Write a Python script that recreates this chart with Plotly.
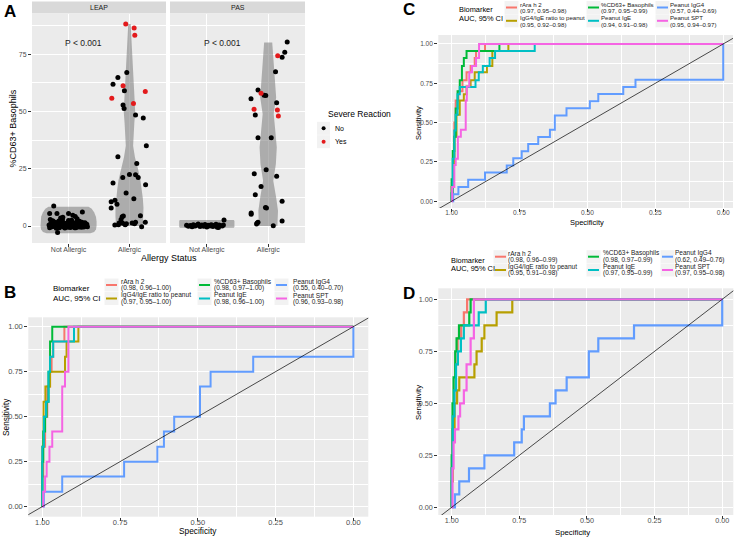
import plotly.graph_objects as go

FIG_W, FIG_H = 738, 538
FONT = "Liberation Sans, Arial, sans-serif"

# ---------------- Panel A data ----------------
categories = ["Not Allergic", "Allergic"]
facets = ["LEAP", "PAS"]

# LEAP, not allergic (jitter offset, %CD63+)
leap_na_dx = [-0.243, -0.31, -0.19, 0.0, 0.07, 0.11, 0.227, 0.14, -0.30, -0.18, -0.094, 0.05, -0.13,
              -0.32, -0.29, -0.27, -0.25, -0.24, -0.22, -0.2, -0.19, -0.17, -0.16,
              -0.14, -0.13, -0.11, -0.1, -0.08, -0.07, -0.05, -0.04, -0.02, -0.01,
              0.01, 0.02, 0.04, 0.05, 0.07, 0.08, 0.1, 0.11, 0.13, 0.14,
              0.16, 0.17, 0.19, 0.2, 0.22, 0.23, 0.25, 0.26, 0.28, 0.3,
              -0.31, -0.28, -0.26, -0.23, -0.21, -0.18, -0.15, -0.12, -0.09, -0.06,
              -0.03, 0.0, 0.03, 0.06, 0.09, 0.12, 0.15, 0.18, 0.21, 0.24, 0.27, 0.31,
              -0.3, -0.25, -0.2, -0.15, -0.1, -0.05, 0.0, 0.05, 0.1, 0.15, 0.2, 0.25, 0.29]
leap_na_y = [8.7, 5.5, 5.5, 5.5, 4.7, 4.2, 6.1, 3.2, 2.8, -2.8, 3.8, 2.5, 3.5,
             0.4, 1.2, -0.3, 0.8, 1.9, 0.1, -0.6, 1.5, 0.3, 2.2,
             -0.2, 0.9, 0.5, 1.7, -0.4, 0.2, 1.1, 0.0, 1.4, -0.5,
             0.6, 2.0, 0.1, -0.3, 1.3, 0.4, 0.9, -0.1, 1.8, 0.3,
             0.7, -0.4, 1.0, 0.2, 1.6, -0.2, 0.5, 1.2, 0.0, 0.8,
             -0.8, 0.6, 2.3, -0.1, 1.0, 0.4, -0.7, 1.9, 0.2, -0.9,
             0.7, 2.4, -0.6, 1.5, 0.1, -0.8, 0.9, 2.1, -0.5, 0.3, 1.4, -0.3,
             0.2, 1.1, -1.0, 0.5, 2.6, -0.2, 0.9, 1.6, -0.7, 0.3, 1.2, -0.4, 0.6]

# LEAP, allergic: no severe reaction / severe reaction
leap_al_no_dx = [-0.044, -0.19, -0.27, -0.083, -0.105, -0.088, 0.10, 0.227, 0.277, -0.19,
                 0.12, -0.11, 0.0, 0.10, 0.144, -0.055, 0.072, -0.27, 0.265, -0.238,
                 -0.30, -0.205, -0.30, 0.18, -0.12, -0.10, -0.138, -0.17, -0.24, -0.18,
                 -0.05, 0.044, 0.10, 0.083, 0.26, 0.2, -0.11, -0.07]
leap_al_no_y = [67.0, 64.8, 61.8, 59.0, 52.8, 51.3, 48.4, 47.1, 35.0, 30.2,
                27.3, 21.2, 22.5, 22.4, 21.2, 14.4, 11.9, 18.8, 18.0, 11.2,
                10.6, 9.5, 7.9, 4.5, 4.1, 4.4, 2.8, 1.3, 0.4, 0.6,
                1.0, 1.3, 1.6, 1.0, 1.6, -0.3, 1.2, 0.6]
leap_al_yes_dx = [-0.061, 0.077, 0.088, -0.105, 0.26, -0.29, 0.066]
leap_al_yes_y = [88.1, 86.4, 83.2, 61.2, 58.7, 55.8, 53.5]

# PAS, not allergic
pas_na_dx = [-0.33, -0.3, -0.27, -0.24, -0.22, -0.19, -0.16, -0.14, -0.11, -0.08,
             -0.06, -0.03, 0.0, 0.02, 0.05, 0.07, 0.1, 0.12, 0.15, 0.17,
             0.2, 0.22, 0.25, 0.27, 0.28, -0.2, -0.05, 0.09, 0.19]
pas_na_y = [0.3, -0.1, 0.2, -0.3, 0.6, 0.0, 0.4, 0.9, -0.2, 0.5,
            0.1, 0.7, -0.4, 0.3, 0.0, 0.6, -0.2, 0.2, 0.8, -0.5,
            0.4, 0.1, 0.0, 0.5, 2.6, 0.1, -0.1, 0.3, -0.6]

# PAS, allergic
pas_al_no_dx = [0.31, 0.27, 0.227, 0.12, -0.166, -0.066, -0.039, -0.28, 0.138, -0.21,
                -0.166, 0.05, -0.033, -0.227, 0.138, -0.116, -0.21, 0.227, -0.044, -0.028,
                -0.277, -0.277, -0.166, -0.19, -0.18, 0.227, 0.083]
pas_al_no_y = [80.3, 75.8, 73.6, 67.3, 59.3, 57.1, 56.9, 55.5, 53.8, 48.4,
               38.5, 38.5, 24.6, 22.8, 21.7, 17.2, 13.7, 10.8, 8.1, 7.9,
               5.7, 5.1, 1.7, 0.9, 1.3, 2.2, 0.1]
pas_al_yes_dx = [0.155, -0.116, -0.23, 0.15, 0.166]
pas_al_yes_y = [74.3, 57.9, 51.0, 50.6, 48.0]

# violin outlines: level and half width
leap_na_vy = [-3.2, -2.6, -1.5, 0, 2, 4, 6, 7.5, 8.4]
leap_na_vw = [0.36, 0.42, 0.45, 0.46, 0.46, 0.45, 0.42, 0.38, 0.33]
leap_al_vy = [0, 4, 8, 12, 16, 20, 25, 30, 35, 40, 45, 50, 55, 60, 65, 70, 75, 80, 85, 88.1]
leap_al_vw = [0.22, 0.23, 0.23, 0.22, 0.2, 0.18, 0.14, 0.09, 0.06, 0.065, 0.08, 0.094, 0.09,
              0.075, 0.065, 0.055, 0.045, 0.035, 0.028, 0.02]
pas_na_vy = [-0.7, -0.3, 2.2, 2.6]
pas_na_vw = [0.44, 0.45, 0.45, 0.44]
pas_al_vy = [0, 2.3, 6.7, 12.5, 19.8, 27, 34.3, 41.6, 48.9, 56.1, 63.4, 70.7, 80.1]
pas_al_vw = [0.15, 0.155, 0.16, 0.13, 0.083, 0.125, 0.14, 0.116, 0.09, 0.13, 0.113, 0.094, 0.066]

# ---------------- ROC data (specificity, sensitivity) ----------------
biomarkers = ["rAra h 2", "IgG4/IgE ratio to peanut", "%CD63+ Basophils",
              "Peanut IgE", "Peanut IgG4", "Peanut SPT"]
colors = ["#F8766D", "#B79F00", "#00BA38", "#00BFC4", "#619CFF", "#F564E3"]

auc_b = ["(0.98, 0.96\u20131.00)", "(0.97, 0.95\u20131.00)", "(0.98, 0.97\u20131.00)",
         "(0.98, 0.96\u20131.00)", "(0.55, 0.40\u20130.70)", "(0.96, 0.93\u20130.98)"]
auc_c = ["(0.97, 0.95\u20130.98)", "(0.95, 0.92\u20130.98)", "(0.97, 0.95\u20130.99)",
         "(0.94, 0.91\u20130.98)", "(0.57, 0.44\u20130.69)", "(0.95, 0.94\u20130.97)"]
auc_d = ["(0.98, 0.96\u20130.99)", "(0.95, 0.91\u20130.98)", "(0.98, 0.97\u20130.99)",
         "(0.97, 0.95\u20130.99)", "(0.62, 0.49\u20130.76)", "(0.97, 0.95\u20130.98)"]

b_rara = [(1, 0), (1, 0.167), (0.997, 0.167), (0.997, 0.333), (0.991, 0.333), (0.991, 0.5),
          (0.984, 0.5), (0.984, 0.667), (0.975, 0.667), (0.975, 0.75), (0.97, 0.75), (0.97, 0.833),
          (0.965, 0.833), (0.965, 0.917), (0.929, 0.917), (0.929, 1), (0, 1)]
b_ratio = [(1, 0), (1, 0.333), (0.996, 0.333), (0.996, 0.583), (0.99, 0.583), (0.99, 0.667),
           (0.975, 0.667), (0.975, 0.75), (0.927, 0.75), (0.927, 0.833), (0.922, 0.833),
           (0.922, 0.917), (0.884, 0.917), (0.884, 1), (0, 1)]
b_cd63 = [(1, 0), (1, 0.25), (0.997, 0.25), (0.997, 0.417), (0.991, 0.417), (0.991, 0.5),
          (0.986, 0.5), (0.986, 0.583), (0.98, 0.583), (0.98, 0.75), (0.975, 0.75), (0.975, 0.917),
          (0.968, 0.917), (0.968, 1), (0, 1)]
b_ige = [(1, 0), (1, 0.333), (0.995, 0.333), (0.995, 0.5), (0.988, 0.5), (0.988, 0.583),
         (0.98, 0.583), (0.98, 0.75), (0.975, 0.75), (0.975, 0.833), (0.965, 0.833),
         (0.965, 0.917), (0.898, 0.917), (0.898, 1), (0, 1)]
b_igg4 = [(1, 0), (0.995, 0), (0.995, 0.083), (0.936, 0.083), (0.936, 0.167), (0.737, 0.167),
          (0.737, 0.25), (0.63, 0.25), (0.63, 0.333), (0.609, 0.333), (0.609, 0.417), (0.576, 0.417),
          (0.576, 0.5), (0.493, 0.5), (0.493, 0.667), (0.459, 0.667), (0.459, 0.75), (0.322, 0.75),
          (0.322, 0.833), (0, 0.833), (0, 1)]
b_spt = [(1, 0), (0.997, 0), (0.997, 0.083), (0.991, 0.083), (0.991, 0.167), (0.986, 0.167),
         (0.986, 0.25), (0.977, 0.25), (0.977, 0.333), (0.968, 0.333), (0.968, 0.417),
         (0.936, 0.417), (0.936, 0.667), (0.927, 0.667), (0.927, 0.75), (0.916, 0.75),
         (0.916, 1), (0, 1)]

c_rara = [(1, 0), (1, 0.09), (0.995, 0.09), (0.995, 0.27), (0.99, 0.27), (0.99, 0.5),
          (0.985, 0.5), (0.985, 0.64), (0.975, 0.64), (0.975, 0.7), (0.96, 0.7), (0.96, 0.77),
          (0.945, 0.77), (0.945, 0.82), (0.93, 0.82), (0.93, 0.86), (0.915, 0.86), (0.915, 0.91),
          (0.91, 0.91), (0.91, 0.955), (0.877, 0.955), (0.877, 1), (0, 1)]
c_ratio = [(1, 0), (1, 0.05), (0.995, 0.05), (0.995, 0.23), (0.99, 0.23), (0.99, 0.41),
           (0.982, 0.41), (0.982, 0.55), (0.97, 0.55), (0.97, 0.64), (0.955, 0.64), (0.955, 0.68),
           (0.945, 0.68), (0.945, 0.73), (0.93, 0.73), (0.93, 0.77), (0.915, 0.77), (0.915, 0.82),
           (0.87, 0.82), (0.87, 0.86), (0.85, 0.86), (0.85, 0.955), (0.791, 0.955), (0.791, 1), (0, 1)]
c_cd63 = [(1, 0), (1, 0.14), (0.996, 0.14), (0.996, 0.32), (0.99, 0.32), (0.99, 0.41),
          (0.985, 0.41), (0.985, 0.59), (0.978, 0.59), (0.978, 0.7), (0.97, 0.7), (0.97, 0.77),
          (0.962, 0.77), (0.962, 0.86), (0.955, 0.86), (0.955, 0.91), (0.945, 0.91),
          (0.945, 0.955), (0.824, 0.955), (0.824, 1), (0, 1)]
c_ige = [(1, 0), (1, 0.05), (0.996, 0.05), (0.996, 0.27), (0.99, 0.27), (0.99, 0.45),
         (0.985, 0.45), (0.985, 0.55), (0.978, 0.55), (0.978, 0.68), (0.97, 0.68), (0.97, 0.727),
         (0.912, 0.727), (0.912, 0.77), (0.9, 0.77), (0.9, 0.82), (0.885, 0.82), (0.885, 0.86),
         (0.86, 0.86), (0.86, 0.91), (0.84, 0.91), (0.84, 0.955), (0.694, 0.955), (0.694, 1), (0, 1)]
c_igg4 = [(1, 0), (0.994, 0), (0.994, 0.045), (0.975, 0.045), (0.975, 0.091), (0.939, 0.091),
          (0.939, 0.136), (0.877, 0.136), (0.877, 0.182), (0.797, 0.182), (0.797, 0.227),
          (0.773, 0.227), (0.773, 0.273), (0.742, 0.273), (0.742, 0.318), (0.718, 0.318),
          (0.718, 0.364), (0.681, 0.364), (0.681, 0.409), (0.638, 0.409), (0.638, 0.455),
          (0.62, 0.455), (0.62, 0.545), (0.577, 0.545), (0.577, 0.591), (0.491, 0.591),
          (0.491, 0.636), (0.46, 0.636), (0.46, 0.682), (0.368, 0.682), (0.368, 0.727),
          (0.323, 0.727), (0.323, 0.773), (0, 0.773), (0, 1)]
c_spt = [(1, 0), (0.998, 0), (0.998, 0.09), (0.99, 0.09), (0.99, 0.23), (0.985, 0.23),
         (0.985, 0.27), (0.977, 0.27), (0.977, 0.41), (0.966, 0.41), (0.966, 0.455),
         (0.948, 0.455), (0.948, 0.64), (0.944, 0.64), (0.944, 0.73), (0.935, 0.73),
         (0.935, 0.82), (0.925, 0.82), (0.925, 0.86), (0.91, 0.86), (0.91, 0.91),
         (0.899, 0.91), (0.899, 1), (0, 1)]

d_rara = [(1, 0), (1, 0.1875), (0.996, 0.1875), (0.996, 0.375), (0.99, 0.375), (0.99, 0.5625),
          (0.985, 0.5625), (0.985, 0.6875), (0.978, 0.6875), (0.978, 0.8125), (0.965, 0.8125),
          (0.965, 0.875), (0.955, 0.875), (0.955, 0.9375), (0.943, 0.9375), (0.943, 1), (0, 1)]
d_ratio = [(1, 0), (1, 0.125), (0.996, 0.125), (0.996, 0.375), (0.99, 0.375), (0.99, 0.5),
           (0.98, 0.5), (0.98, 0.5625), (0.972, 0.5625), (0.972, 0.625), (0.916, 0.625),
           (0.916, 0.6875), (0.908, 0.6875), (0.908, 0.75), (0.889, 0.75), (0.889, 0.8125),
           (0.879, 0.8125), (0.879, 0.875), (0.834, 0.875), (0.834, 0.9375), (0.776, 0.9375),
           (0.776, 1), (0, 1)]
d_cd63 = [(1, 0), (1, 0.25), (0.997, 0.25), (0.997, 0.5), (0.993, 0.5), (0.993, 0.625),
          (0.987, 0.625), (0.987, 0.75), (0.982, 0.75), (0.982, 0.8125), (0.973, 0.8125),
          (0.973, 0.875), (0.935, 0.875), (0.935, 0.9375), (0.93, 0.9375), (0.93, 1), (0, 1)]
d_ige = [(1, 0), (1, 0.1875), (0.996, 0.1875), (0.996, 0.4375), (0.99, 0.4375), (0.99, 0.5625),
         (0.984, 0.5625), (0.984, 0.6875), (0.977, 0.6875), (0.977, 0.75), (0.966, 0.75),
         (0.966, 0.8125), (0.955, 0.8125), (0.955, 0.875), (0.9, 0.875), (0.9, 0.9375),
         (0.874, 0.9375), (0.874, 1), (0, 1)]
d_igg4 = [(1, 0), (0.988, 0), (0.988, 0.0625), (0.972, 0.0625), (0.972, 0.125), (0.936, 0.125),
          (0.936, 0.1875), (0.879, 0.1875), (0.879, 0.25), (0.769, 0.25), (0.769, 0.3125),
          (0.741, 0.3125), (0.741, 0.375), (0.733, 0.375), (0.733, 0.4375), (0.637, 0.4375),
          (0.637, 0.5), (0.616, 0.5), (0.616, 0.5625), (0.575, 0.5625), (0.575, 0.625),
          (0.493, 0.625), (0.493, 0.75), (0.458, 0.75), (0.458, 0.8125), (0.326, 0.8125),
          (0.326, 0.875), (0, 0.875), (0, 1)]
d_spt = [(1, 0), (0.997, 0), (0.997, 0.1875), (0.993, 0.1875), (0.993, 0.3125), (0.988, 0.3125),
         (0.988, 0.375), (0.975, 0.375), (0.975, 0.4375), (0.969, 0.4375), (0.969, 0.5),
         (0.955, 0.5), (0.955, 0.5625), (0.945, 0.5625), (0.945, 0.6875), (0.93, 0.6875),
         (0.93, 0.8125), (0.918, 0.8125), (0.918, 1), (0, 1)]

roc_ticks = [0, 0.25, 0.5, 0.75, 1]
roc_ticktext = ["0.00", "0.25", "0.50", "0.75", "1.00"]
a_ticks = [0, 25, 50, 75]


def px(x):
    return x / FIG_W


def py(y):
    return 1 - y / FIG_H


fig = go.Figure()

# ---------- Panel A ----------
VIOLIN = "rgba(120,120,120,0.55)"


def add_violin(vy, vw, center, xa, ya):
    xs = [center + w for w in vw] + [center - w for w in reversed(vw)]
    ys = list(vy) + list(reversed(vy))
    fig.add_trace(go.Scatter(x=xs, y=ys, fill="toself", fillcolor=VIOLIN, mode="lines",
                             line=dict(width=0), xaxis=xa, yaxis=ya,
                             showlegend=False, hoverinfo="skip"))


def add_points(dx, y, center, color, xa, ya):
    fig.add_trace(go.Scatter(x=[center + d for d in dx], y=y, mode="markers",
                             marker=dict(color=color, size=5), xaxis=xa, yaxis=ya,
                             showlegend=False, hoverinfo="skip"))


RED = "#E31A1C"
add_violin(leap_na_vy, leap_na_vw, 1, "x", "y")
add_violin(leap_al_vy, leap_al_vw, 2, "x", "y")
add_points(leap_na_dx, leap_na_y, 1, "black", "x", "y")
add_points(leap_al_no_dx, leap_al_no_y, 2, "black", "x", "y")
add_points(leap_al_yes_dx, leap_al_yes_y, 2, RED, "x", "y")

add_violin(pas_na_vy, pas_na_vw, 1, "x2", "y2")
add_violin(pas_al_vy, pas_al_vw, 2, "x2", "y2")
add_points(pas_na_dx, pas_na_y, 1, "black", "x2", "y2")
add_points(pas_al_no_dx, pas_al_no_y, 2, "black", "x2", "y2")
add_points(pas_al_yes_dx, pas_al_yes_y, 2, RED, "x2", "y2")

for xa, ya in [("x", "y"), ("x2", "y2")]:
    fig.add_annotation(x=1.25, y=80, xref=xa, yref=ya, text="P < 0.001", showarrow=False,
                       font=dict(size=8.5, color="#1A1A1A", family=FONT))

# ---------- ROC panels ----------
roc_sets = [
    ("x3", "y3", [b_rara, b_ratio, b_cd63, b_ige, b_igg4, b_spt], 2.0),
    ("x4", "y4", [c_rara, c_ratio, c_cd63, c_ige, c_igg4, c_spt], 2.0),
    ("x5", "y5", [d_rara, d_ratio, d_cd63, d_ige, d_igg4, d_spt], 2.2),
]
for xa, ya, curves, lw in roc_sets:
    for pts, col in zip(curves, colors):
        fig.add_trace(go.Scatter(x=[p[0] for p in pts], y=[p[1] for p in pts], mode="lines",
                                 line=dict(color=col, width=lw), xaxis=xa, yaxis=ya,
                                 showlegend=False, hoverinfo="skip"))
    fig.add_trace(go.Scatter(x=[1.2, -0.2], y=[-0.2, 1.2], mode="lines",
                             line=dict(color="black", width=0.7), xaxis=xa, yaxis=ya,
                             showlegend=False, hoverinfo="skip"))

# ---------- axes ----------
common = dict(showgrid=True, gridcolor="white", gridwidth=1.1, zeroline=False, showline=False,
              ticks="outside", ticklen=3, tickcolor="#333333", tickwidth=0.8)

a_font = dict(size=7, color="#4D4D4D", family=FONT)
a_x = dict(range=[0.4, 2.6], tickvals=[1, 2], ticktext=categories, ticklabelstandoff=-3,
           tickfont=a_font, **common)
a_y = dict(range=[-7.4, 92.5], tickvals=a_ticks, tickfont=a_font,
           minor=dict(dtick=12.5, tick0=0, showgrid=True, gridcolor="white", gridwidth=0.5), **common)


def roc_axes(xr, yr, fsize, standoff):
    minor = dict(dtick=0.125, tick0=0, showgrid=True, gridcolor="white", gridwidth=0.5)
    font = dict(size=fsize, color="#4D4D4D", family=FONT)
    xa = dict(range=xr, tickvals=roc_ticks, ticktext=roc_ticktext, minor=minor,
              ticklabelstandoff=standoff, tickfont=font, **common)
    ya = dict(range=yr, tickvals=roc_ticks, ticktext=roc_ticktext, minor=minor,
              tickfont=font, **common)
    return xa, ya


bx, by = roc_axes([1.045, -0.048], [-0.056, 1.052], 7.5, -5)
cx, cy = roc_axes([1.049, -0.036], [-0.043, 1.057], 6.6, -5)
dx_, dy_ = roc_axes([1.0495, -0.041], [-0.037, 1.053], 7.2, -5)

fig.update_layout(
    xaxis=dict(domain=[px(32), px(166)], anchor="y", **a_x),
    yaxis=dict(domain=[py(243), py(14)], anchor="x", **a_y),
    xaxis2=dict(domain=[px(170), px(305)], anchor="y2", **a_x),
    yaxis2=dict(domain=[py(243), py(14)], anchor="x2", showticklabels=False,
                **dict(a_y, ticks="")),
    xaxis3=dict(domain=[px(28.3), px(368.3)], anchor="y3", **bx),
    yaxis3=dict(domain=[py(516.7), py(317.3)], anchor="x3", **by),
    xaxis4=dict(domain=[px(438.3), px(733)], anchor="y4", **cx),
    yaxis4=dict(domain=[py(208), py(35)], anchor="x4", **cy),
    xaxis5=dict(domain=[px(438.3), px(733.3)], anchor="y5", **dx_),
    yaxis5=dict(domain=[py(515), py(288.3)], anchor="x5", **dy_),
)


# ---------- text and legend helpers ----------
def txt(x, y, s, size, anchor="center", angle=0, color="#000000", bold=False):
    if bold:
        s = "<b>" + s + "</b>"
    fig.add_annotation(x=px(x), y=py(y), xref="paper", yref="paper", text=s, showarrow=False,
                       font=dict(size=size, color=color, family=FONT), xanchor=anchor,
                       yanchor="middle", textangle=angle, borderpad=0)


def rect(x0, y0, x1, y1, fill):
    fig.add_shape(type="rect", xref="paper", yref="paper", x0=px(x0), x1=px(x1),
                  y0=py(y0), y1=py(y1), fillcolor=fill, line=dict(width=0), layer="below")


# strips
rect(32, 1.5, 166, 13.5, "#D9D9D9")
rect(170, 1.5, 305, 13.5, "#D9D9D9")
txt(99, 7.5, facets[0], 7, color="#1A1A1A")
txt(237.5, 7.5, facets[1], 7, color="#1A1A1A")

# axis titles
txt(168.5, 258, "Allergy Status", 9)
txt(13, 128.5, "%CD63+ Basophils", 9, angle=-90)
txt(198, 530.5, "Specificity", 8.3)
txt(6, 417, "Sensitivity", 8.3, angle=-90)
txt(587, 222.5, "Specificity", 7.5)
txt(418, 123, "Sensitivity", 7.5, angle=-90)
txt(572, 532, "Specificity", 7.8)
txt(418, 403, "Sensitivity", 7.8, angle=-90)

# panel letters
txt(10, 11, "A", 17, bold=True)
txt(10, 292, "B", 17, bold=True)
txt(409, 10, "C", 17, bold=True)
txt(409, 293, "D", 17, bold=True)

# severe reaction legend
txt(326.5, 114, "Severe Reaction", 8.5, anchor="left")
for y, col, lab in [(128.3, "black", "No"), (141.7, RED, "Yes")]:
    rect(317, y - 6.5, 330, y + 6.5, "#F2F2F2")
    fig.add_shape(type="circle", xref="paper", yref="paper", x0=px(321.6), x1=px(325.6),
                  y0=py(y + 2), y1=py(y - 2), fillcolor=col, line=dict(width=0))
    txt(334, y, lab, 7, anchor="left")


def roc_legend(title_x, title_ys, key_xs, text_xs, row_ys, aucs, tsize, esize):
    txt(title_x, title_ys[0], "Biomarker", tsize, anchor="left")
    txt(title_x, title_ys[1], "AUC, 95% CI", tsize, anchor="left")
    for i, (lab, auc, col) in enumerate(zip(biomarkers, aucs, colors)):
        c, r = i // 2, i % 2
        kx, ky = key_xs[c], row_ys[r]
        rect(kx - 1.5, ky - 6.5, kx + 12.5, ky + 6.5, "#F2F2F2")
        fig.add_shape(type="line", xref="paper", yref="paper", x0=px(kx), x1=px(kx + 11),
                      y0=py(ky), y1=py(ky), line=dict(color=col, width=2))
        txt(text_xs[c], ky - 3.5, lab, esize, anchor="left", color="#1A1A1A")
        txt(text_xs[c], ky + 3.4, auc, esize, anchor="left", color="#1A1A1A")


roc_legend(52, [288, 298], [106, 199, 276], [120, 213, 292], [285, 298.5], auc_b, 8, 6.6)
roc_legend(458, [10, 18.5], [506, 588, 657], [519, 600, 669], [7.5, 20.8], auc_c, 7.4, 6.1)
roc_legend(450, [260.5, 268.5], [495, 588, 662], [507, 602, 674], [256.7, 270], auc_d, 7.4, 6.5)

fig.update_layout(
    width=FIG_W, height=FIG_H, margin=dict(l=0, r=0, t=0, b=0),
    paper_bgcolor="white", plot_bgcolor="#EBEBEB",
    font=dict(family=FONT, color="#000000"), showlegend=False,
)

fig.write_html("out.html", config={"displayModeBar": False},
               post_script="document.body.style.margin='0px';")
